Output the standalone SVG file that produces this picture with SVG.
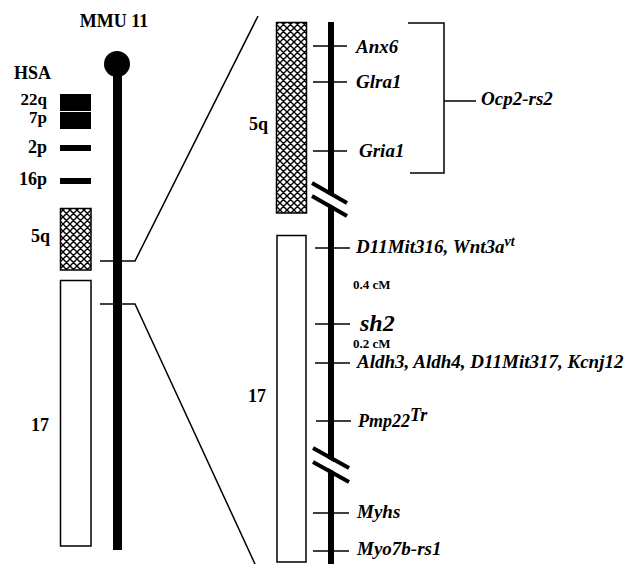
<svg xmlns="http://www.w3.org/2000/svg" width="628" height="564" viewBox="0 0 628 564">
<style>
text{font-family:"Liberation Serif","Times New Roman",serif;font-weight:bold;fill:#000}
.g{font-style:italic;font-size:19px}
.lab{font-size:18px}
.sm{font-size:17px}
.cm{font-size:13px}
.thin{stroke:#000;stroke-width:1.5;fill:none}
.box{stroke:#000;stroke-width:1.5}
.slash{stroke:#000;stroke-width:4;fill:none}
</style>
<defs>
<pattern id="hatch" width="7" height="7" patternUnits="userSpaceOnUse">
<rect width="7" height="7" fill="#fff"/>
<path d="M-1,-1 L8,8 M-1,8 L8,-1 M-4.5,3.5 L3.5,-4.5 M3.5,10.5 L10.5,3.5 M-4.5,3.5 L3.5,10.5 M3.5,-4.5 L10.5,3.5" stroke="#000" stroke-width="1.4"/>
</pattern>
</defs>
<rect width="628" height="564" fill="#fff"/>

<g id="left-chromosome">
<text class="lab" x="114" y="27" text-anchor="middle">MMU 11</text>
<circle cx="117" cy="64" r="13" fill="#000"/>
<rect x="113" y="64" width="9" height="486" fill="#000"/>
</g>

<g id="hsa-labels">
<text class="lab" x="14" y="79">HSA</text>
<text class="sm" x="47" y="105" text-anchor="end">22q</text>
<rect x="60" y="94" width="31" height="17" fill="#000"/>
<text class="sm" x="47" y="123" text-anchor="end">7p</text>
<rect x="60" y="112" width="31" height="17" fill="#000"/>
<text class="lab" x="47" y="153" text-anchor="end">2p</text>
<rect x="60" y="145" width="31" height="6" fill="#000"/>
<text class="lab" x="47" y="185" text-anchor="end">16p</text>
<rect x="60" y="178" width="31" height="6" fill="#000"/>
</g>

<g id="left-5q">
<rect class="box" x="60.5" y="208.5" width="30.5" height="61.5" fill="url(#hatch)"/>
<text class="lab" x="50" y="242" text-anchor="end">5q</text>
</g>

<g id="left-17">
<rect class="box" x="60.5" y="280.5" width="30.5" height="265.5" fill="#fff"/>
<text class="lab" x="49" y="431" text-anchor="end">17</text>
</g>

<g id="connectors">
<polyline class="thin" points="100,261 135,261 258,16"/>
<polyline class="thin" points="100,304 135,304 255,564"/>
</g>

<g id="right-chromosome">
<rect x="328" y="22" width="6" height="542" fill="#000"/>
<line x1="312" y1="189.5" x2="347" y2="209" stroke="#fff" stroke-width="8"/>
<line class="slash" x1="312" y1="183" x2="347" y2="203"/>
<line class="slash" x1="312" y1="196" x2="347" y2="216"/>
<line x1="313" y1="455" x2="349" y2="475" stroke="#fff" stroke-width="8"/>
<line class="slash" x1="313" y1="448" x2="349" y2="468"/>
<line class="slash" x1="313" y1="462" x2="349" y2="482"/>
</g>

<g id="right-5q">
<rect class="box" x="276.5" y="22.5" width="30" height="190.5" fill="url(#hatch)"/>
<text class="lab" x="249" y="130">5q</text>
</g>

<g id="right-17">
<rect class="box" x="277" y="235.5" width="29" height="326.5" fill="#fff"/>
<text class="lab" x="248" y="402">17</text>
</g>

<g id="markers">
<line class="thin" x1="313" y1="46" x2="347" y2="46"/>
<text class="g" x="356" y="53">Anx6</text>
<line class="thin" x1="313" y1="82" x2="347" y2="82"/>
<text class="g" x="356" y="88">Glra1</text>
<line class="thin" x1="313" y1="151" x2="347" y2="151"/>
<text class="g" x="359" y="157">Gria1</text>

<line class="thin" x1="315" y1="248" x2="350" y2="248"/>
<text class="g" x="356" y="253">D11Mit316, Wnt3a<tspan style="font-size:14px" dy="-7">vt</tspan></text>
<text class="cm" x="353" y="289">0.4 cM</text>
<line class="thin" x1="315" y1="324" x2="350" y2="324"/>
<text class="g" x="360" y="331" style="font-size:24px">sh2</text>
<text class="cm" x="353" y="348">0.2 cM</text>
<line class="thin" x1="315" y1="363" x2="350" y2="363"/>
<text class="g" x="357" y="368">Aldh3, Aldh4, D11Mit317, Kcnj12</text>
<line class="thin" x1="316" y1="421" x2="351" y2="421"/>
<text class="g" x="358" y="427" style="font-size:18px">Pmp22<tspan dy="-6">Tr</tspan></text>
<line class="thin" x1="313" y1="513" x2="349" y2="513"/>
<text class="g" x="357" y="518">Myhs</text>
<line class="thin" x1="313" y1="551" x2="349" y2="551"/>
<text class="g" x="357" y="555">Myo7b-rs1</text>
</g>

<g id="bracket">
<polyline class="thin" points="408,23 444,23 444,173 410,173"/>
<line class="thin" x1="444" y1="101" x2="476" y2="101"/>
<text class="g" x="481" y="105">Ocp2-rs2</text>
</g>
</svg>
